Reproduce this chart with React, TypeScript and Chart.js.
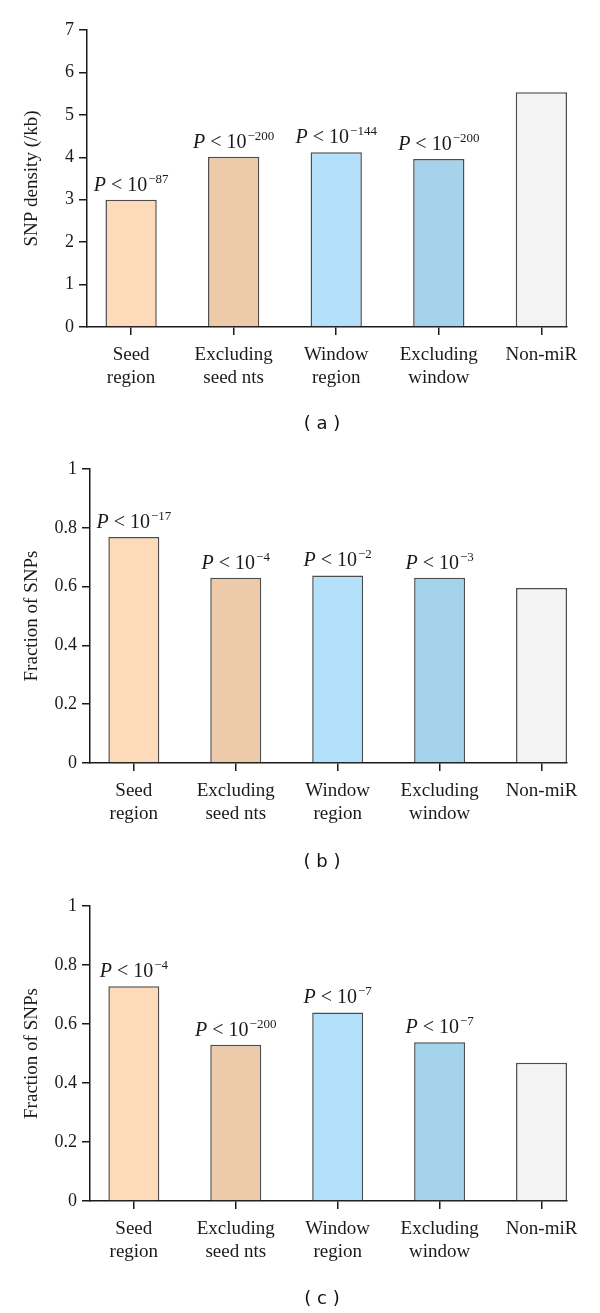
import React, { useEffect, useRef } from "react";
import { Chart, registerables } from "chart.js";

Chart.register(...registerables);

const categories: string[][] = [
  ["Seed", "region"],
  ["Excluding", "seed nts"],
  ["Window", "region"],
  ["Excluding", "window"],
  ["Non-miR"],
];

const barColors = ["#FDDBBA", "#EDCAA9", "#B3E1FC", "#A6D3EC", "#F3F3F3"];

const densityValues = [3.0, 4.01, 4.12, 3.96, 5.53];
const densityExponents = ["−87", "−200", "−144", "−200", ""];

const fractionBValues = [0.769, 0.63, 0.638, 0.63, 0.595];
const fractionBExponents = ["−17", "−4", "−2", "−3", ""];

const fractionCValues = [0.728, 0.53, 0.639, 0.538, 0.469];
const fractionCExponents = ["−4", "−200", "−7", "−7", ""];

type PanelSpec = {
  values: number[];
  exponents: string[];
  yTitle: string;
  yMax: number;
  yStep: number;
  caption: string;
  height: number;
  top: number;
  yWidth: number;
  xHeight: number;
};

const panels: PanelSpec[] = [
  { values: densityValues, exponents: densityExponents, yTitle: "SNP density (/kb)", yMax: 7, yStep: 1, caption: "( a )", height: 438, top: 30, yWidth: 87, xHeight: 111 },
  { values: fractionBValues, exponents: fractionBExponents, yTitle: "Fraction of SNPs", yMax: 1, yStep: 0.2, caption: "( b )", height: 438, top: 31, yWidth: 90, xHeight: 113 },
  { values: fractionCValues, exponents: fractionCExponents, yTitle: "Fraction of SNPs", yMax: 1, yStep: 0.2, caption: "( c )", height: 437, top: 30, yWidth: 90, xHeight: 112 },
];

const SERIF = "'Liberation Serif', 'Times New Roman', serif";

function Panel({ spec }: { spec: PanelSpec }) {
  const ref = useRef<HTMLCanvasElement | null>(null);
  useEffect(() => {
    if (!ref.current) return;
    const annotate = {
      id: "annotate",
      afterDatasetsDraw(chart: any) {
        const ctx = chart.ctx;
        const meta = chart.getDatasetMeta(0);
        ctx.save();
        ctx.fillStyle = "#1a1a1a";
        ctx.textBaseline = "alphabetic";
        meta.data.forEach((el: any, i: number) => {
          const exp = spec.exponents[i];
          if (!exp) return;
          const partP = "P";
          const partMid = " < 10";
          const fP = `italic 20px ${SERIF}`;
          const fM = `20px ${SERIF}`;
          const fS = `13px ${SERIF}`;
          ctx.font = fP;
          const wP = ctx.measureText(partP).width;
          ctx.font = fM;
          const wM = ctx.measureText(partMid).width;
          ctx.font = fS;
          const wS = ctx.measureText(exp).width;
          const total = wP + wM + wS + 1;
          let x = el.x - total / 2;
          const y = el.y - 9;
          ctx.textAlign = "left";
          ctx.font = fP;
          ctx.fillText(partP, x, y);
          x += wP;
          ctx.font = fM;
          ctx.fillText(partMid, x, y);
          x += wM + 1;
          ctx.font = fS;
          ctx.fillText(exp, x, y - 8);
        });
        ctx.font = `18px 'DejaVu Sans', sans-serif`;
        ctx.textAlign = "center";
        ctx.textBaseline = "middle";
        ctx.fillStyle = "#111";
        ctx.fillText(spec.caption, 322, chart.height - 14);
        ctx.restore();
      },
    };
    const chart = new Chart(ref.current, {
      type: "bar",
      data: {
        datasets: [
          {
            data: spec.values.map((v, i) => ({ x: i, y: v })),
            backgroundColor: barColors,
            borderColor: "#4d4d4d",
            borderWidth: 1.5,
            barPercentage: 1,
            categoryPercentage: 0.5,
          },
        ],
      },
      options: {
        animation: false,
        responsive: false,
        layout: { padding: { top: spec.top, right: 33, bottom: 0, left: 0 } },
        plugins: { legend: { display: false }, tooltip: { enabled: false } },
        scales: {
          x: {
            type: "linear",
            min: -0.43,
            max: 4.25,
            offset: false,
            afterBuildTicks: (scale: any) => {
              scale.ticks = [0, 1, 2, 3, 4].map((v) => ({ value: v }));
            },
            afterFit: (scale: any) => {
              scale.height = spec.xHeight;
            },
            ticks: {
              autoSkip: false,
              maxRotation: 0,
              padding: 9,
              color: "#1a1a1a",
              font: { family: SERIF, size: 19, lineHeight: 1.2 },
              callback: (v: any) => categories[Math.round(Number(v))] ?? "",
            },
            grid: { offset: false, drawOnChartArea: false, drawTicks: true, tickLength: 8, color: "#1a1a1a", lineWidth: 1.5 },
            border: { display: true, color: "#1a1a1a", width: 1.5 },
          },
          y: {
            min: 0,
            max: spec.yMax,
            afterFit: (scale: any) => {
              scale.width = spec.yWidth;
            },
            ticks: {
              stepSize: spec.yStep,
              padding: 5,
              color: "#1a1a1a",
              font: { family: SERIF, size: 18 },
              callback: (v: any) => String(parseFloat(Number(v).toFixed(1))),
            },
            grid: { drawOnChartArea: false, drawTicks: true, tickLength: 8, color: "#1a1a1a", lineWidth: 1.5 },
            border: { display: true, color: "#1a1a1a", width: 1.5 },
            title: {
              display: true,
              text: spec.yTitle,
              color: "#1a1a1a",
              font: { family: SERIF, size: 19, lineHeight: 1.2 },
              padding: { top: 21, bottom: 0 },
            },
          },
        },
      },
      plugins: [annotate],
    });
    return () => chart.destroy();
  }, [spec]);
  return <canvas ref={ref} width={600} height={spec.height} style={{ display: "block" }} />;
}

export default function App() {
  return (
    <div style={{ position: "absolute", left: 0, top: 0, width: 600, height: 1313, background: "#fff" }}>
      {panels.map((p, i) => (
        <Panel key={i} spec={p} />
      ))}
    </div>
  );
}
